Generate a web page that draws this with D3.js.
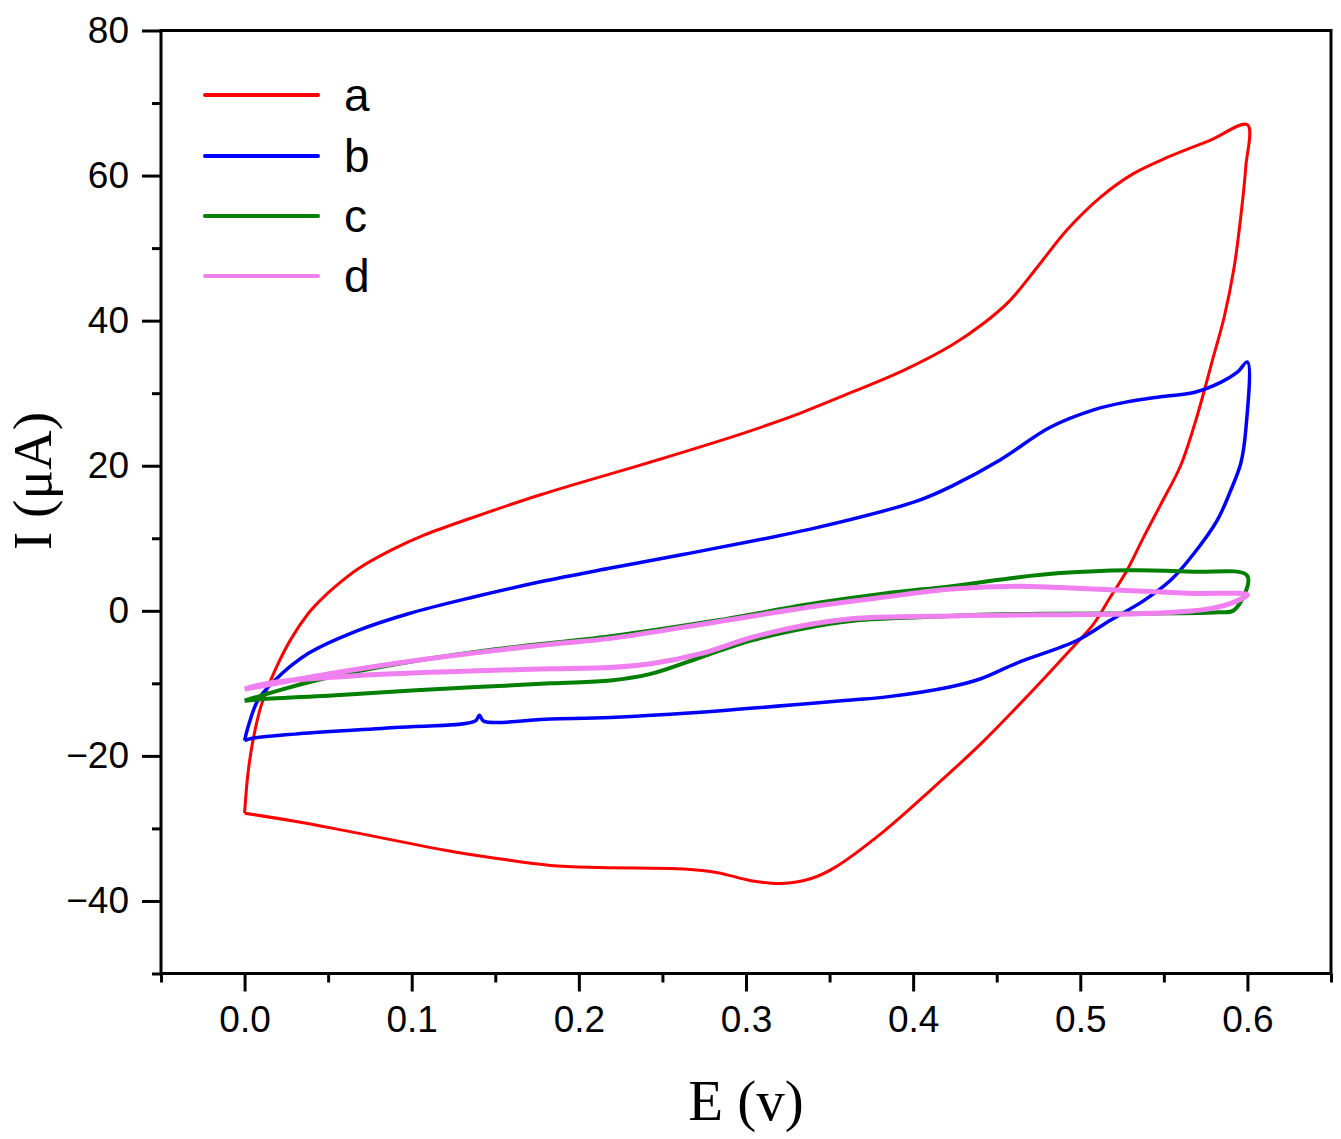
<!DOCTYPE html>
<html>
<head>
<meta charset="utf-8">
<script src="https://cdn.jsdelivr.net/npm/d3@7"></script>
<style>
  html, body { margin: 0; padding: 0; background: #fff; }
  svg { display: block; }
</style>
</head>
<body>
<svg id="chart" width="1341" height="1139"></svg>
<script>
// ---------------- DATA ----------------
const seriesNames = ["a", "b", "c", "d"];
const seriesColors = ["#ff0000", "#0000ff", "#007f00", "#f07ff0"];

// [E (V), I (µA)] — closed CV loops: forward scan then reverse scan
const curveA = [
  [0, -27.9], [0.002, -22.5], [0.005, -17.9], [0.010, -13.0], [0.018, -8.3], [0.028, -3.8],
  [0.038, -0.4], [0.046, 1.6], [0.054, 3.3], [0.068, 5.8], [0.088, 8.4], [0.108, 10.5], [0.137, 12.9],
  [0.177, 16.0], [0.200, 17.6], [0.250, 21.0],
  [0.300, 24.6], [0.333, 27.3], [0.363, 30.1], [0.393, 33.0], [0.423, 36.6], [0.442, 39.6],
  [0.458, 42.8], [0.474, 47.3], [0.492, 52.5], [0.512, 57.0], [0.532, 60.3], [0.552, 62.5],
  [0.578, 64.9], [0.600, 67.0],
  [0.599, 61.2], [0.596, 54.3], [0.592, 47.3], [0.586, 40.4], [0.579, 34.5], [0.574, 30.2],
  [0.568, 25.4], [0.560, 20.0], [0.548, 14.6], [0.538, 10.2], [0.528, 5.6], [0.518, 1.9],
  [0.508, -1.8], [0.494, -5.4], [0.478, -9.4], [0.442, -18.0], [0.412, -24.4], [0.383, -30.3], [0.353, -35.4],
  [0.339, -36.9], [0.321, -37.6], [0.303, -37.2], [0.283, -36.1], [0.263, -35.6], [0.213, -35.4],
  [0.183, -35.1], [0.150, -34.1], [0.120, -33.0], [0.060, -30.3], [0.030, -29.0], [0, -27.9]
];
const curveB = [
  [0, -17.9], [0.002, -16.1], [0.008, -12.3], [0.018, -9.6], [0.038, -5.9], [0.068, -2.7],
  [0.098, -0.4], [0.137, 1.9], [0.177, 4.0], [0.219, 5.9], [0.263, 7.8], [0.343, 11.5],
  [0.403, 15.2], [0.424, 17.3], [0.452, 20.8], [0.482, 25.3], [0.508, 27.7], [0.528, 28.8],
  [0.548, 29.5], [0.568, 30.1], [0.584, 31.5], [0.594, 32.9], [0.600, 34.3],
  [0.599, 24.9], [0.596, 20.3], [0.590, 16.6], [0.582, 12.5], [0.568, 7.9], [0.554, 4.2],
  [0.538, 1.4], [0.518, -1.3], [0.498, -4.1], [0.462, -7.2], [0.440, -9.4], [0.422, -10.5], [0.383, -11.9],
  [0.363, -12.3], [0.283, -13.8], [0.219, -14.7], [0.183, -14.9], [0.143, -15.2], [0.1405, -14.4],
  [0.138, -15.2], [0.090, -16.1], [0.030, -17.0], [0.004, -17.6], [0, -17.9]
];
const curveC = [
  [0, -12.4], [0.020, -11.0], [0.050, -9.2], [0.100, -7.0], [0.150, -5.3], [0.219, -3.5],
  [0.283, -1.3], [0.343, 1.1], [0.383, 2.4], [0.423, 3.4], [0.462, 4.6], [0.488, 5.2],
  [0.528, 5.6], [0.568, 5.4], [0.600, 4.8],
  [0.592, 0.1], [0.582, -0.2], [0.476, -0.4], [0.433, -0.6], [0.403, -0.9], [0.363, -1.4],
  [0.333, -2.5], [0.303, -4.1], [0.273, -6.4], [0.243, -8.7], [0.219, -9.6], [0.183, -10.0],
  [0.100, -11.0], [0.050, -11.7], [0.016, -12.1], [0, -12.4]
];
const curveD = [
  [0, -10.8], [0.050, -8.7], [0.110, -6.6], [0.183, -4.6], [0.219, -3.8], [0.283, -1.5],
  [0.343, 0.7], [0.383, 1.9], [0.423, 3.0], [0.462, 3.4], [0.488, 3.2], [0.528, 2.8],
  [0.568, 2.4], [0.600, 2.2],
  [0.592, 1.2], [0.578, 0.3], [0.548, -0.3], [0.452, -0.6], [0.423, -0.7], [0.363, -1.1],
  [0.333, -2.1], [0.303, -3.7], [0.273, -5.9], [0.243, -7.3], [0.219, -7.8], [0.183, -8.0],
  [0.149, -8.2], [0.070, -8.9], [0.016, -9.9], [0, -10.8]
];
const curves = [curveA, curveB, curveC, curveD];

const xMajorTicks = [0.0, 0.1, 0.2, 0.3, 0.4, 0.5, 0.6];
const xMinorTicks = [-0.05, 0.05, 0.15, 0.25, 0.35, 0.45, 0.55, 0.65];
const yMajorTicks = [-40, -20, 0, 20, 40, 60, 80];
const yMinorTicks = [-50, -30, -10, 10, 30, 50, 70];

// ---------------- LAYOUT ----------------
const pL = 161, pR = 1331, pT = 30.5, pB = 973.5;
const svg = d3.select("#chart");

const x = d3.scaleLinear().domain([-0.05, 0.65]).range([pL, pR]);
const y = d3.scaleLinear().domain([-50, 80]).range([pB, pT]);

const sans = "'Liberation Sans', Arial, Helvetica, sans-serif";
const serif = "'Liberation Serif', 'Times New Roman', serif";

// curves
const line = d3.line()
  .x(d => x(d[0]))
  .y(d => y(d[1]))
  .curve(d3.curveCatmullRom.alpha(0.5));

const widths = [3, 3.5, 4, 5];
const g = svg.append("g");
curves.forEach((c, i) => {
  g.append("path")
    .attr("d", line(c))
    .attr("fill", "none")
    .attr("stroke", seriesColors[i])
    .attr("stroke-width", widths[i])
    .attr("stroke-linejoin", "round");
});

// axes
function styleAxis(sel) {
  sel.select(".domain").remove();
  sel.selectAll("line").attr("stroke", "#000").attr("stroke-width", 3);
  sel.selectAll("text").attr("font-family", sans).attr("fill", "#000");
}

const xMaj = svg.append("g").attr("transform", `translate(0,${pB})`)
  .call(d3.axisBottom(x).tickValues(xMajorTicks).tickSize(18).tickPadding(14)
    .tickFormat(d3.format(".1f")));
styleAxis(xMaj);
xMaj.selectAll("text").attr("font-size", 37);

const xMin = svg.append("g").attr("transform", `translate(0,${pB})`)
  .call(d3.axisBottom(x).tickValues(xMinorTicks).tickSize(9).tickFormat(""));
styleAxis(xMin);

const yMaj = svg.append("g").attr("transform", `translate(${pL},0)`)
  .call(d3.axisLeft(y).tickValues(yMajorTicks).tickSize(19).tickPadding(13)
    .tickFormat(d3.format("d")));
styleAxis(yMaj);
yMaj.selectAll("text").attr("font-size", 37);

const yMin = svg.append("g").attr("transform", `translate(${pL},0)`)
  .call(d3.axisLeft(y).tickValues(yMinorTicks).tickSize(9).tickFormat(""));
styleAxis(yMin);

// frame
svg.append("rect")
  .attr("x", pL).attr("y", pT)
  .attr("width", pR - pL).attr("height", pB - pT)
  .attr("fill", "none").attr("stroke", "#000").attr("stroke-width", 3);

// axis titles
svg.append("text")
  .attr("x", (pL + pR) / 2).attr("y", 1120)
  .attr("text-anchor", "middle")
  .attr("font-family", serif).attr("font-size", 57)
  .text("E (v)");

svg.append("text")
  .attr("transform", "translate(51,481) rotate(-90)")
  .attr("text-anchor", "middle")
  .attr("font-family", serif).attr("font-size", 55)
  .text("I (μA)");

// legend
const legY = [95, 156, 216, 276];
seriesNames.forEach((n, i) => {
  svg.append("line")
    .attr("x1", 205).attr("x2", 318)
    .attr("y1", legY[i]).attr("y2", legY[i])
    .attr("stroke", seriesColors[i]).attr("stroke-width", 4)
    .attr("stroke-linecap", "round");
  svg.append("text")
    .attr("x", 344).attr("y", legY[i] + 16)
    .attr("font-family", sans).attr("font-size", 46)
    .attr("fill", "#000")
    .text(n);
});
</script>
</body>
</html>
